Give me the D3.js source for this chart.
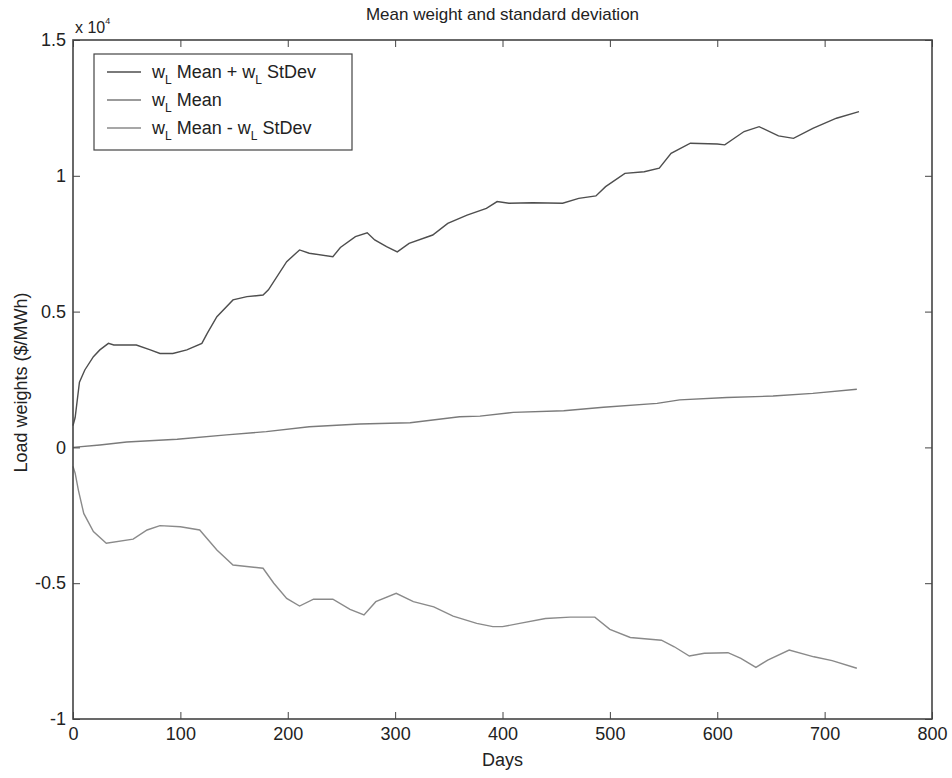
<!DOCTYPE html>
<html>
<head>
<meta charset="utf-8">
<script src="https://cdn.jsdelivr.net/npm/d3@7"></script>
<style>
  html, body { margin: 0; padding: 0; background: #fff; }
  svg { display: block; font-family: "Liberation Sans", Arial, Helvetica, sans-serif; }
</style>
</head>
<body>
<svg id="chart" width="952" height="778"></svg>
<script>
// ---- Data (values in units of 10^4 $/MWh) ----
const upperDays = [0, 2, 6, 11, 19, 25, 33, 38, 59, 72, 81, 93, 106, 120, 125, 134, 149, 162, 177, 182, 199, 211, 220, 242, 249, 263, 274, 281, 292, 302, 313, 335, 349, 367, 385, 395, 406, 428, 456, 471, 487, 496, 514, 532, 546, 557, 575, 600, 607, 625, 639, 657, 671, 689, 711, 732];
const upperVals = [0.08, 0.11, 0.24, 0.285, 0.334, 0.359, 0.383, 0.377, 0.377, 0.359, 0.346, 0.346, 0.359, 0.383, 0.42, 0.481, 0.543, 0.555, 0.561, 0.58, 0.684, 0.727, 0.715, 0.702, 0.736, 0.776, 0.79, 0.764, 0.739, 0.72, 0.751, 0.782, 0.825, 0.855, 0.88, 0.905, 0.899, 0.901, 0.899, 0.917, 0.926, 0.96, 1.009, 1.015, 1.028, 1.083, 1.12, 1.117, 1.114, 1.163, 1.181, 1.147, 1.138, 1.175, 1.212, 1.236];

const meanDays = [0, 25, 50, 97, 143, 180, 220, 267, 314, 360, 379, 410, 457, 494, 544, 565, 609, 652, 689, 730];
const meanVals = [0, 0.009, 0.02, 0.03, 0.046, 0.058, 0.076, 0.086, 0.091, 0.113, 0.115, 0.129, 0.135, 0.148, 0.162, 0.175, 0.184, 0.189, 0.199, 0.214];

const lowerDays = [0, 2, 5, 10, 19, 31, 56, 69, 81, 100, 118, 134, 149, 177, 187, 199, 211, 224, 242, 258, 271, 282, 301, 317, 336, 354, 376, 391, 400, 416, 440, 463, 486, 500, 519, 548, 560, 574, 588, 610, 622, 636, 647, 667, 690, 707, 730];
const lowerVals = [-0.07, -0.095, -0.157, -0.243, -0.31, -0.353, -0.338, -0.304, -0.288, -0.292, -0.304, -0.378, -0.433, -0.445, -0.5, -0.556, -0.584, -0.559, -0.559, -0.596, -0.617, -0.568, -0.537, -0.568, -0.587, -0.621, -0.648, -0.66, -0.66, -0.648, -0.63, -0.625, -0.625, -0.67, -0.70, -0.71, -0.734, -0.768, -0.758, -0.756, -0.777, -0.81, -0.783, -0.746, -0.771, -0.785, -0.813];

const xTicks = [0, 100, 200, 300, 400, 500, 600, 700, 800];
const xTickLabels = ["0", "100", "200", "300", "400", "500", "600", "700", "800"];
const yTicks = [-1, -0.5, 0, 0.5, 1, 1.5];
const yTickLabels = ["-1", "-0.5", "0", "0.5", "1", "1.5"];

const titleText = "Mean weight and standard deviation";
const xLabelText = "Days";
const yLabelText = "Load weights ($/MWh)";
const exponentBase = "x 10";
const exponentPow = "4";

// ---- Layout ----
const svg = d3.select("#chart");
const L = 73, R = 932, T = 40, B = 719;
const x = d3.scaleLinear().domain([0, 800]).range([L, R]);
const y = d3.scaleLinear().domain([-1, 1.5]).range([B, T]);

const textColor = "#222";
const axisColor = "#444";
const fs = 18;

// Series
const series = [
  { days: upperDays, vals: upperVals, color: "#4e4e4e", label: ["Mean + w", "StDev"] },
  { days: meanDays, vals: meanVals, color: "#7a7a7a", label: ["Mean"] },
  { days: lowerDays, vals: lowerVals, color: "#8a8a8a", label: ["Mean - w", "StDev"] }
];
const line = d3.line().x(d => x(d[0])).y(d => y(d[1]));
series.forEach(s => {
  svg.append("path")
    .datum(s.days.map((d, i) => [d, s.vals[i]]))
    .attr("fill", "none")
    .attr("stroke", s.color)
    .attr("stroke-width", 1.4)
    .attr("d", line);
});

// Axes (ticks inside, MATLAB-style box)
function styleAxis(g) {
  g.select(".domain").remove();
  g.selectAll(".tick line").attr("stroke", axisColor).attr("stroke-width", 1);
  g.selectAll(".tick text").attr("fill", textColor).style("font-size", fs + "px");
}
svg.append("g").attr("transform", `translate(0,${B})`)
  .call(d3.axisBottom(x).tickValues(xTicks).tickFormat((d, i) => xTickLabels[i]).tickSize(-7).tickPadding(8))
  .call(styleAxis);
svg.append("g").attr("transform", `translate(0,${T})`)
  .call(d3.axisTop(x).tickValues(xTicks).tickFormat("").tickSize(-7))
  .call(styleAxis);
svg.append("g").attr("transform", `translate(${L},0)`)
  .call(d3.axisLeft(y).tickValues(yTicks).tickFormat((d, i) => yTickLabels[i]).tickSize(-7).tickPadding(7))
  .call(styleAxis);
svg.append("g").attr("transform", `translate(${R},0)`)
  .call(d3.axisRight(y).tickValues(yTicks).tickFormat("").tickSize(-7))
  .call(styleAxis);

svg.append("rect")
  .attr("x", L).attr("y", T).attr("width", R - L).attr("height", B - T)
  .attr("fill", "none").attr("stroke", axisColor).attr("stroke-width", 1.6);

// Title and labels
svg.append("text").attr("x", (L + R) / 2).attr("y", 20)
  .attr("text-anchor", "middle").attr("fill", textColor).style("font-size", "17px")
  .text(titleText);
svg.append("text").attr("x", (L + R) / 2).attr("y", 766)
  .attr("text-anchor", "middle").attr("fill", textColor).style("font-size", fs + "px")
  .text(xLabelText);
svg.append("text").attr("transform", `translate(27,${(T + B) / 2 + 3}) rotate(-90)`)
  .attr("text-anchor", "middle").attr("fill", textColor).style("font-size", fs + "px")
  .text(yLabelText);

// Exponent
const ex = svg.append("text").attr("x", 75).attr("y", 33).attr("fill", textColor).style("font-size", "16px");
ex.append("tspan").text(exponentBase);
ex.append("tspan").attr("dy", -9).style("font-size", "9px").text(exponentPow);

// Legend
const lg = svg.append("g");
lg.append("rect").attr("x", 94).attr("y", 54).attr("width", 258).attr("height", 96)
  .attr("fill", "#fff").attr("stroke", axisColor).attr("stroke-width", 1.2);
const legendY = [72, 100, 128];
series.forEach((s, i) => {
  const yy = legendY[i];
  lg.append("line").attr("x1", 107).attr("x2", 141).attr("y1", yy).attr("y2", yy)
    .attr("stroke", s.color).attr("stroke-width", 1.4);
  const t = lg.append("text").attr("x", 152).attr("y", yy + 6).attr("fill", textColor).style("font-size", "18px");
  t.append("tspan").text("w");
  t.append("tspan").attr("dy", 6).style("font-size", "12px").text("L");
  t.append("tspan").attr("dy", -6).text(" " + s.label[0]);
  if (s.label.length > 1) {
    t.append("tspan").attr("dy", 6).style("font-size", "12px").text("L");
    t.append("tspan").attr("dy", -6).text(" " + s.label[1]);
  }
});
</script>
</body>
</html>
